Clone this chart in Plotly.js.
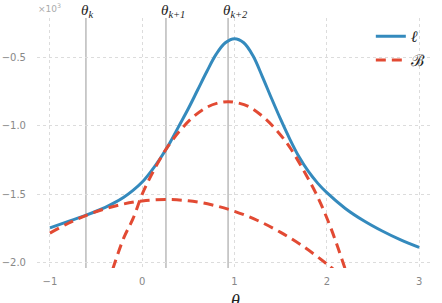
<!DOCTYPE html>
<html>
<head>
<meta charset="utf-8">
<script src="https://cdn.plot.ly/plotly-3.0.1.min.js"></script>
<style>html,body{margin:0;padding:0;background:#fff;}#chart{width:442px;height:303px;}</style>
</head>
<body>
<div id="chart"></div>
<script>
// Values in units of 10^3
var thetaL = [-1.0,-0.8,-0.6,-0.4,-0.3,-0.2,-0.1,0.0,0.1,0.2,0.3,0.4,0.5,0.6,0.7,0.8,0.9,1.0,1.1,1.2,1.3,1.4,1.5,1.6,1.7,1.8,1.9,2.0,2.2,2.4,2.6,2.8,3.0];
var ell    = [-1.747,-1.70,-1.652,-1.597,-1.563,-1.523,-1.473,-1.412,-1.33,-1.235,-1.125,-1.00,-0.875,-0.74,-0.605,-0.48,-0.395,-0.365,-0.395,-0.49,-0.64,-0.80,-0.955,-1.10,-1.23,-1.335,-1.42,-1.49,-1.605,-1.695,-1.77,-1.835,-1.89];

var thetaB1 = [-1.0,-0.8,-0.6,-0.4,-0.2,0.0,0.25,0.5,0.75,1.0,1.25,1.5,1.75,2.0,2.1];
var bound1  = [-1.785,-1.713,-1.654,-1.607,-1.572,-1.55,-1.54,-1.549,-1.578,-1.626,-1.693,-1.78,-1.885,-2.011,-2.066];

var thetaB2 = [-0.32,-0.2,-0.1,0.0,0.1,0.25,0.4,0.55,0.7,0.85,0.93,1.0,1.15,1.3,1.45,1.6,1.75,1.9,2.05,2.2];
var bound2  = [-2.05,-1.82,-1.68,-1.50,-1.36,-1.18,-1.044,-0.938,-0.866,-0.83,-0.825,-0.829,-0.86,-0.93,-1.03,-1.16,-1.33,-1.52,-1.76,-2.05];

var markerTheta = [-0.61, 0.257, 0.93];
var markerLabels = ['<i>&#952;<sub>k</sub></i>', '<i>&#952;<sub>k+1</sub></i>', '<i>&#952;<sub>k+2</sub></i>'];

var xTicks = [-1, 0, 1, 2, 3];
var yTicks = [-2.0, -1.5, -1.0, -0.5];
var xTitle = '<i>&#952;</i>';

var blue = '#348ABD', red = '#E24A33';

var traces = [
  {x: thetaL, y: ell, mode: 'lines', name: '<i>&#8467;</i>', line: {color: blue, width: 3, shape: 'spline', smoothing: 1}},
  {x: thetaB1, y: bound1, mode: 'lines', name: '&#8492;', legendgroup: 'B', line: {color: red, width: 3, dash: '10px,6px', shape: 'spline', smoothing: 1}},
  {x: thetaB2, y: bound2, mode: 'lines', name: '&#8492;', legendgroup: 'B', showlegend: false, line: {color: red, width: 3, dash: '10px,6px', shape: 'spline', smoothing: 1}}
];

var shapes = markerTheta.map(function (t) {
  return {type: 'line', xref: 'x', yref: 'paper', x0: t, x1: t, y0: 0, y1: 1, layer: 'below', line: {color: '#bbbbbb', width: 1.5}};
});

var annotations = markerTheta.map(function (t, i) {
  return {x: t, xref: 'x', y: 1, yref: 'paper', text: markerLabels[i], showarrow: false, xanchor: 'left', yanchor: 'bottom', xshift: -7, yshift: -4,
    font: {family: 'Liberation Serif', size: 15, color: '#222'}};
});
annotations.push({x: 0, xref: 'paper', y: 1, yref: 'paper', text: '&#215;10<sup>3</sup>', showarrow: false, xanchor: 'left', yanchor: 'bottom', xshift: -1, yshift: 2,
  font: {family: 'DejaVu Sans', size: 9, color: '#aaaaaa'}});
annotations.push({x: 0.5, xref: 'paper', y: 0, yref: 'paper', text: xTitle, showarrow: false, xanchor: 'center', yanchor: 'top', yshift: -21,
  font: {family: 'Liberation Serif', size: 18, color: '#222'}});

var layout = {
  width: 442, height: 303,
  margin: {l: 37, r: 9, t: 18, b: 35},
  paper_bgcolor: '#fff', plot_bgcolor: '#fff',
  showlegend: true,
  legend: {x: 0.843, xanchor: 'left', y: 0.995, yanchor: 'top', bgcolor: 'rgba(0,0,0,0)', itemwidth: 30, tracegroupgap: 0,
    font: {family: 'Liberation Serif', size: 16, color: '#222'}},
  xaxis: {range: [-1.14, 3.15], tickvals: xTicks, ticktext: xTicks.map(function(v){return v < 0 ? '\u2212' + Math.abs(v) : String(v);}),
    showline: false, zeroline: false, showgrid: true, gridcolor: '#dcdcdc', griddash: 'dot', gridwidth: 1,
    ticks: '', ticklabelstandoff: 6, tickfont: {family: 'DejaVu Sans', size: 10, color: '#888'}},
  yaxis: {range: [-2.04, -0.214], tickvals: yTicks, ticktext: yTicks.map(function(v){return '\u2212' + Math.abs(v).toFixed(1);}),
    showline: false, zeroline: false, showgrid: true, gridcolor: '#dcdcdc', griddash: 'dot', gridwidth: 1,
    ticks: '', ticklabelstandoff: 10, tickfont: {family: 'DejaVu Sans', size: 10, color: '#888'}},
  shapes: shapes,
  annotations: annotations
};

Plotly.newPlot('chart', traces, layout, {displayModeBar: false, staticPlot: true});
</script>
</body>
</html>
